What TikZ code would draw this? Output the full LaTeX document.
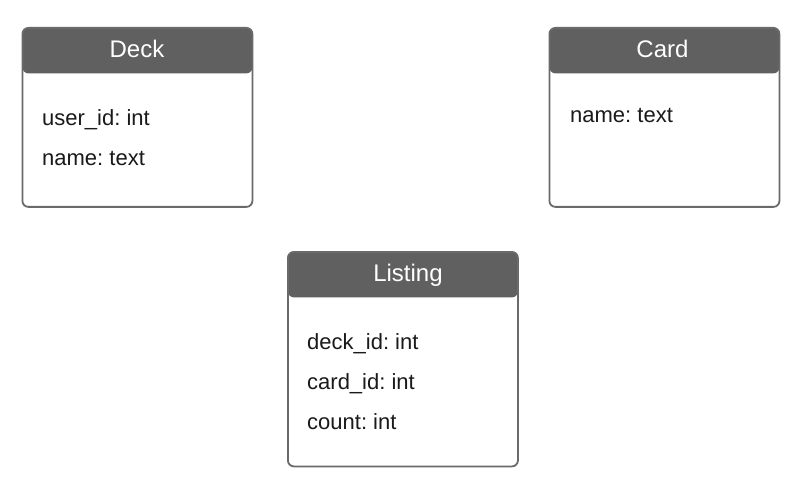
\documentclass[tikz,border=0pt]{standalone}
\usepackage{fontspec}
\setmainfont{Liberation Sans}
\frenchspacing
\definecolor{hdr}{HTML}{606060}
\definecolor{edge}{HTML}{6A6A6A}
\definecolor{txt}{HTML}{1A1A1A}
\tikzset{
  entity/.style={draw=edge, line width=1.8pt, rounded corners=6pt, fill=white,
    minimum width=230pt, inner sep=0pt, anchor=north west,
    path picture={\fill[hdr] (path picture bounding box.north west) rectangle ([yshift=-45.5pt]path picture bounding box.north east);}},
  title/.style={text=white, font=\fontsize{24}{28}\selectfont, anchor=base, inner sep=0pt},
  field/.style={text=txt, font=\fontsize{22}{26}\selectfont, anchor=base west, inner sep=0pt}
}
\begin{document}
\begin{tikzpicture}[x=1pt,y=-1pt]
\useasboundingbox (0,0) rectangle (800,489);
% Deck
\node[entity, minimum height=179pt] (deck) at (21.5,27) {};
\node[title] (deckT) at (137,57.5) {Deck};
\node[field] (deck1) at (42,126) {user\_id: int};
\node[field] (deck2) at (42,166) {name: text};
% Card
\node[entity, minimum height=179pt] (card) at (548.5,27) {};
\node[title] (cardT) at (662.5,57.5) {Card};
\node[field] (card1) at (570,122.5) {name: text};
% Listing
\node[entity, minimum height=214.5pt] (listing) at (287,251) {};
\node[title] (listingT) at (408,281.5) {Listing};
\node[field] (list1) at (307,349) {deck\_id: int};
\node[field] (list2) at (307,389) {card\_id: int};
\node[field] (list3) at (307,429) {count: int};
\end{tikzpicture}
\end{document}
